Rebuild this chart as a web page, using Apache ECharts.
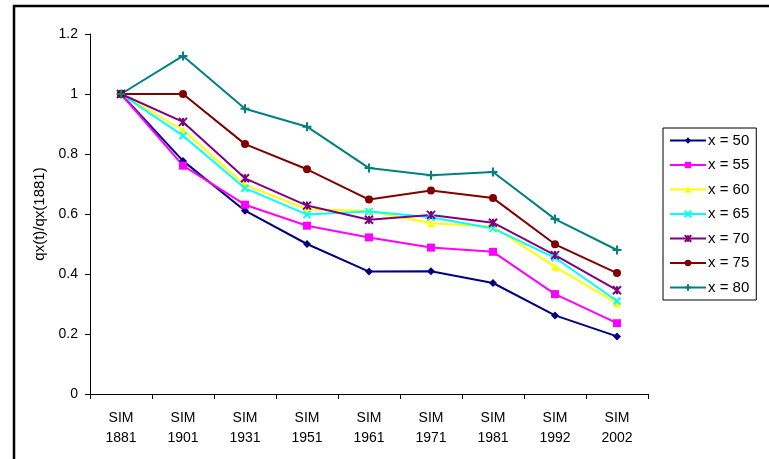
<!DOCTYPE html>
<html><head><meta charset="utf-8">
<script src="https://cdn.jsdelivr.net/npm/echarts@6/dist/echarts.min.js"></script>
<style>html,body{margin:0;padding:0;background:#fff}#c{width:769px;height:459px}</style>
</head><body><div id="c"></div>
<script>
const categories = ['SIM\n1881','SIM\n1901','SIM\n1931','SIM\n1951','SIM\n1961','SIM\n1971','SIM\n1981','SIM\n1992','SIM\n2002'];
const seriesNames = ['x = 50','x = 55','x = 60','x = 65','x = 70','x = 75','x = 80'];
const x50 = [1.0, 0.777, 0.611, 0.500, 0.408, 0.409, 0.370, 0.262, 0.192];
const x55 = [1.0, 0.761, 0.631, 0.561, 0.522, 0.488, 0.474, 0.333, 0.236];
const x60 = [1.0, 0.880, 0.697, 0.616, 0.610, 0.569, 0.558, 0.424, 0.302];
const x65 = [1.0, 0.861, 0.686, 0.598, 0.608, 0.589, 0.552, 0.454, 0.310];
const x70 = [1.0, 0.907, 0.719, 0.628, 0.581, 0.597, 0.571, 0.463, 0.346];
const x75 = [1.0, 1.000, 0.833, 0.749, 0.648, 0.678, 0.653, 0.499, 0.403];
const x80 = [1.0, 1.127, 0.951, 0.891, 0.753, 0.729, 0.740, 0.583, 0.480];
const yTicks = [0, 0.2, 0.4, 0.6, 0.8, 1, 1.2];

const values = [x50, x55, x60, x65, x70, x75, x80];
const colors = ['#000080','#FF00FF','#FFFF00','#00FFFF','#800080','#800000','#008080'];
const symbols = ['diamond','rect','triangle',
  'path://M0,0L10,10M10,0L0,10',
  'path://M0,0L10,10M10,0L0,10M5,0L5,10',
  'circle',
  'path://M5,0L5,10M0,5L10,5'];
const sizes = [8, 8, 8, 7, 8, 8, 9];
const stroked = [false,false,false,true,true,false,true];

const font = 'Liberation Sans, Arial, sans-serif';
const chart = echarts.init(document.getElementById('c'), null, {renderer:'canvas'});
chart.setOption({
  animation: false,
  backgroundColor: '#fff',
  graphic: [{
    type: 'rect', z: -1, silent: true,
    shape: {x: 14, y: 6, width: 800, height: 500},
    style: {fill: 'none', stroke: '#000', lineWidth: 2.5}
  }],
  grid: {left: 90, top: 34, right: 121, bottom: 65},
  legend: {
    orient: 'vertical', left: 663, top: 128,
    padding: [5, 7, 5, 6],
    itemGap: 9.5, itemWidth: 36, itemHeight: 8,
    borderColor: '#000', borderWidth: 1,
    textStyle: {fontFamily: font, fontSize: 15, lineHeight: 15, color: '#000', padding: [0,0,0,-3]},
    data: seriesNames
  },
  xAxis: {
    type: 'category', data: categories, boundaryGap: true,
    axisLine: {lineStyle: {color: '#000', width: 1}},
    axisTick: {show: true, length: 5, lineStyle: {color: '#000'}},
    axisLabel: {fontFamily: font, fontSize: 14, color: '#000', margin: 14, lineHeight: 20, interval: 0},
    splitLine: {show: false}
  },
  yAxis: {
    type: 'value', min: 0, max: 1.2, interval: 0.2,
    name: 'qx(t)/qx(1881)', nameLocation: 'middle', nameGap: 36, nameRotate: 90,
    nameTextStyle: {fontFamily: font, fontSize: 15, color: '#000'},
    axisLine: {show: true, lineStyle: {color: '#000', width: 1}},
    axisTick: {show: true, length: 5, lineStyle: {color: '#000'}},
    axisLabel: {fontFamily: font, fontSize: 14, color: '#000', margin: 12,
      formatter: v => { const t = yTicks.find(k => Math.abs(k - v) < 1e-9); return String(t !== undefined ? t : v); }},
    splitLine: {show: false}
  },
  series: values.map((d, i) => ({
    type: 'line', name: seriesNames[i], data: d,
    symbol: symbols[i], symbolSize: sizes[i], showAllSymbol: true,
    lineStyle: {color: colors[i], width: 2},
    itemStyle: stroked[i]
      ? {color: colors[i], borderColor: colors[i], borderWidth: 2}
      : {color: colors[i], borderWidth: 0},
    emphasis: {disabled: true}
  }))
});
</script></body></html>
